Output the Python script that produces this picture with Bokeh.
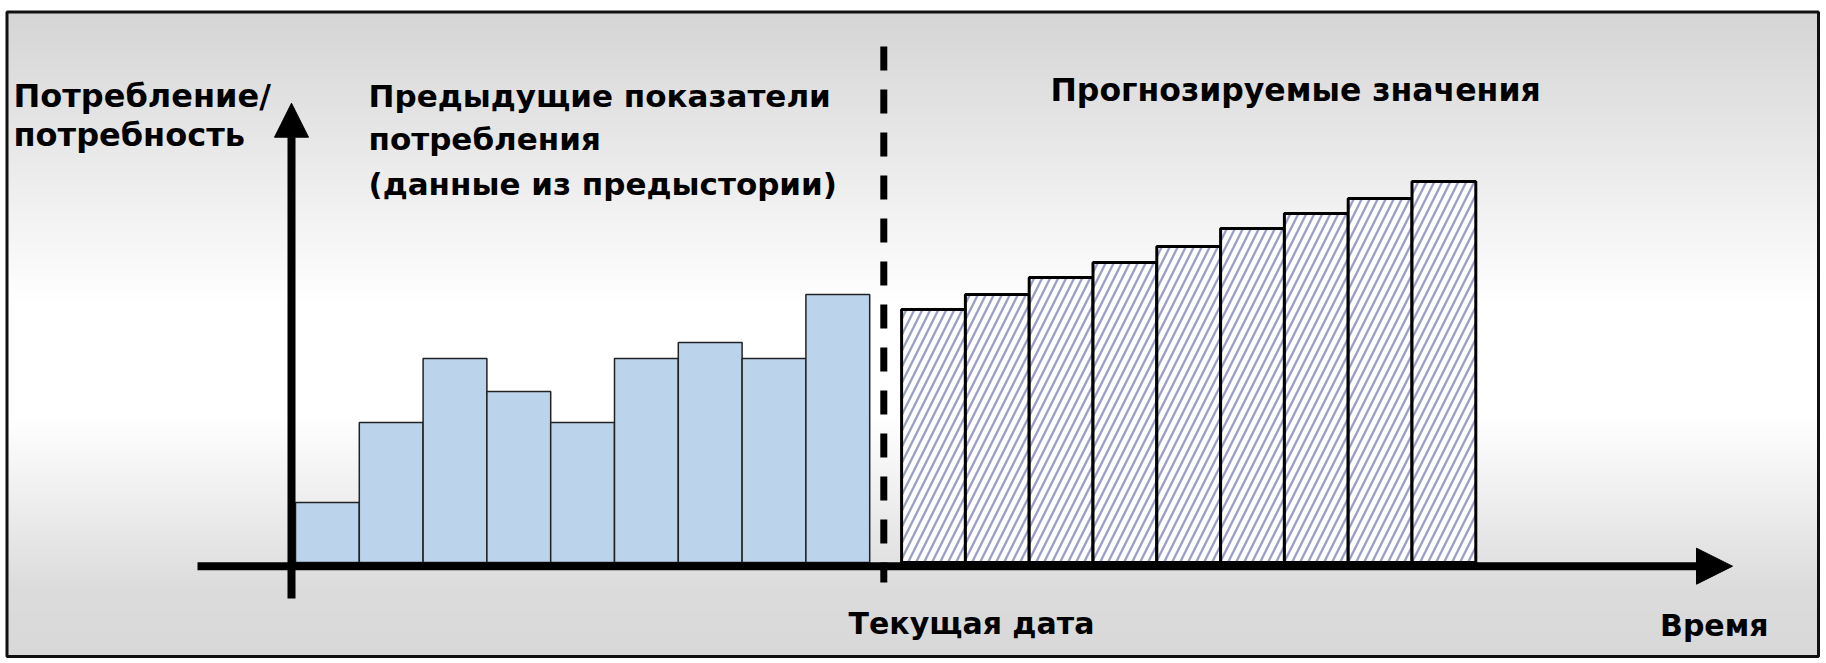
import numpy as np
from bokeh.plotting import figure
from bokeh.models import Range1d, Arrow, NormalHead
from bokeh.embed import file_html
from bokeh.resources import INLINE
from bokeh.core.properties import value

# ---------------- data ----------------
history_values = [6.0, 14.0, 20.4, 17.1, 14.0, 20.4, 22.0, 20.4, 26.8]
forecast_values = [25.3, 26.8, 28.5, 30.0, 31.6, 33.4, 34.9, 36.4, 38.1]
y_axis_label = ["Потребление/", "потребность"]
history_label = ["Предыдущие показатели", "потребления", "(данные из предыстории)"]
forecast_label = ["Прогнозируемые значения"]
current_date_label = ["Текущая дата"]
time_label = ["Время"]

# ---------------- layout ----------------
W, H = 1826, 663
X0_PX, X_UNIT = 295.0, 63.8      # pixel of x=0, pixels per bar
Y0_PX, Y_UNIT = 562.0, 10.0      # pixel of value 0, pixels per unit


def dx(px):
    return (px - X0_PX) / X_UNIT


def dy(py):
    return (Y0_PX - py) / Y_UNIT


p = figure(width=W, height=H,
           x_range=Range1d(dx(0), dx(W)), y_range=Range1d(dy(H), dy(0)),
           output_backend="svg", toolbar_location=None,
           x_axis_location=None, y_axis_location=None, min_border=0)
p.grid.visible = False
p.outline_line_color = None
p.background_fill_color = "white"
p.border_fill_color = "white"

# background gradient (gray -> white -> gray)
bx0, bx1, by0, by1 = 6.5, 1818.0, 11.5, 656.0
N = 400
rows_px = np.linspace(by1, by0, N)          # row 0 is at the bottom
g = np.interp(rows_px, [by0, 300, 420, 590, by1], [213, 255, 255, 220, 217])
img = np.empty((N, 1), dtype=np.uint32)
view = img.view(dtype=np.uint8).reshape((N, 1, 4))
view[:, :, 0] = g[:, None]
view[:, :, 1] = g[:, None]
view[:, :, 2] = g[:, None]
view[:, :, 3] = 255
p.image_rgba(image=[img], x=dx(bx0), y=dy(by1),
             dw=dx(bx1) - dx(bx0), dh=dy(by0) - dy(by1))

# frame border
p.quad(left=[dx(bx0)], right=[dx(bx1)], bottom=[dy(by1)], top=[dy(by0)],
       fill_color=None, line_color="#111111", line_width=3)

# bars
hist_x = [i + 0.5 for i in range(len(history_values))]
fc_x = [len(history_values) + 1.0 + i for i in range(len(forecast_values))]

p.vbar(x=hist_x, top=history_values, bottom=0, width=1.0,
       fill_color="#bcd3ec", line_color="#222222", line_width=1.5)
p.vbar(x=fc_x, top=forecast_values, bottom=0, width=1.0,
       fill_color="white", hatch_pattern="/", hatch_color="#9a9ec6",
       hatch_scale=16, hatch_weight=2.3,
       line_color="black", line_width=3)

# current-date dashed line
xd = dx(883.3)
p.segment(x0=[xd], y0=[dy(46)], x1=[xd], y1=[dy(582)],
          line_color="black", line_width=7, line_dash="24 19")

# axes with arrows
p.add_layout(Arrow(x_start=dx(197), y_start=dy(565.7), x_end=dx(1732), y_end=dy(565.7),
                   line_width=8, line_color="black",
                   end=NormalHead(size=36, fill_color="black", line_color="black", line_width=1)))
p.add_layout(Arrow(x_start=dx(291), y_start=dy(598), x_end=dx(291), y_end=dy(102.7),
                   line_width=8, line_color="black",
                   end=NormalHead(size=34, fill_color="black", line_color="black", line_width=1)))

# texts
FONT = value("DejaVu Sans")


def label(texts, px, pys, size, align="left"):
    p.text(x=[dx(px)] * len(texts), y=[dy(v) for v in pys], text=texts,
           text_font=FONT, text_font_style="bold", text_font_size=size,
           text_color="black", text_align=align, text_baseline="alphabetic")


label(y_axis_label, 13, [95, 134], "32px")
label(history_label, 368, [95, 138, 183], "31px")
label(forecast_label, 1050, [89], "31.5px")
label(current_date_label, 848, [623], "30px")
label(time_label, 1768, [625], "30px", align="right")

open("out.html", "w").write(file_html(p, INLINE))
